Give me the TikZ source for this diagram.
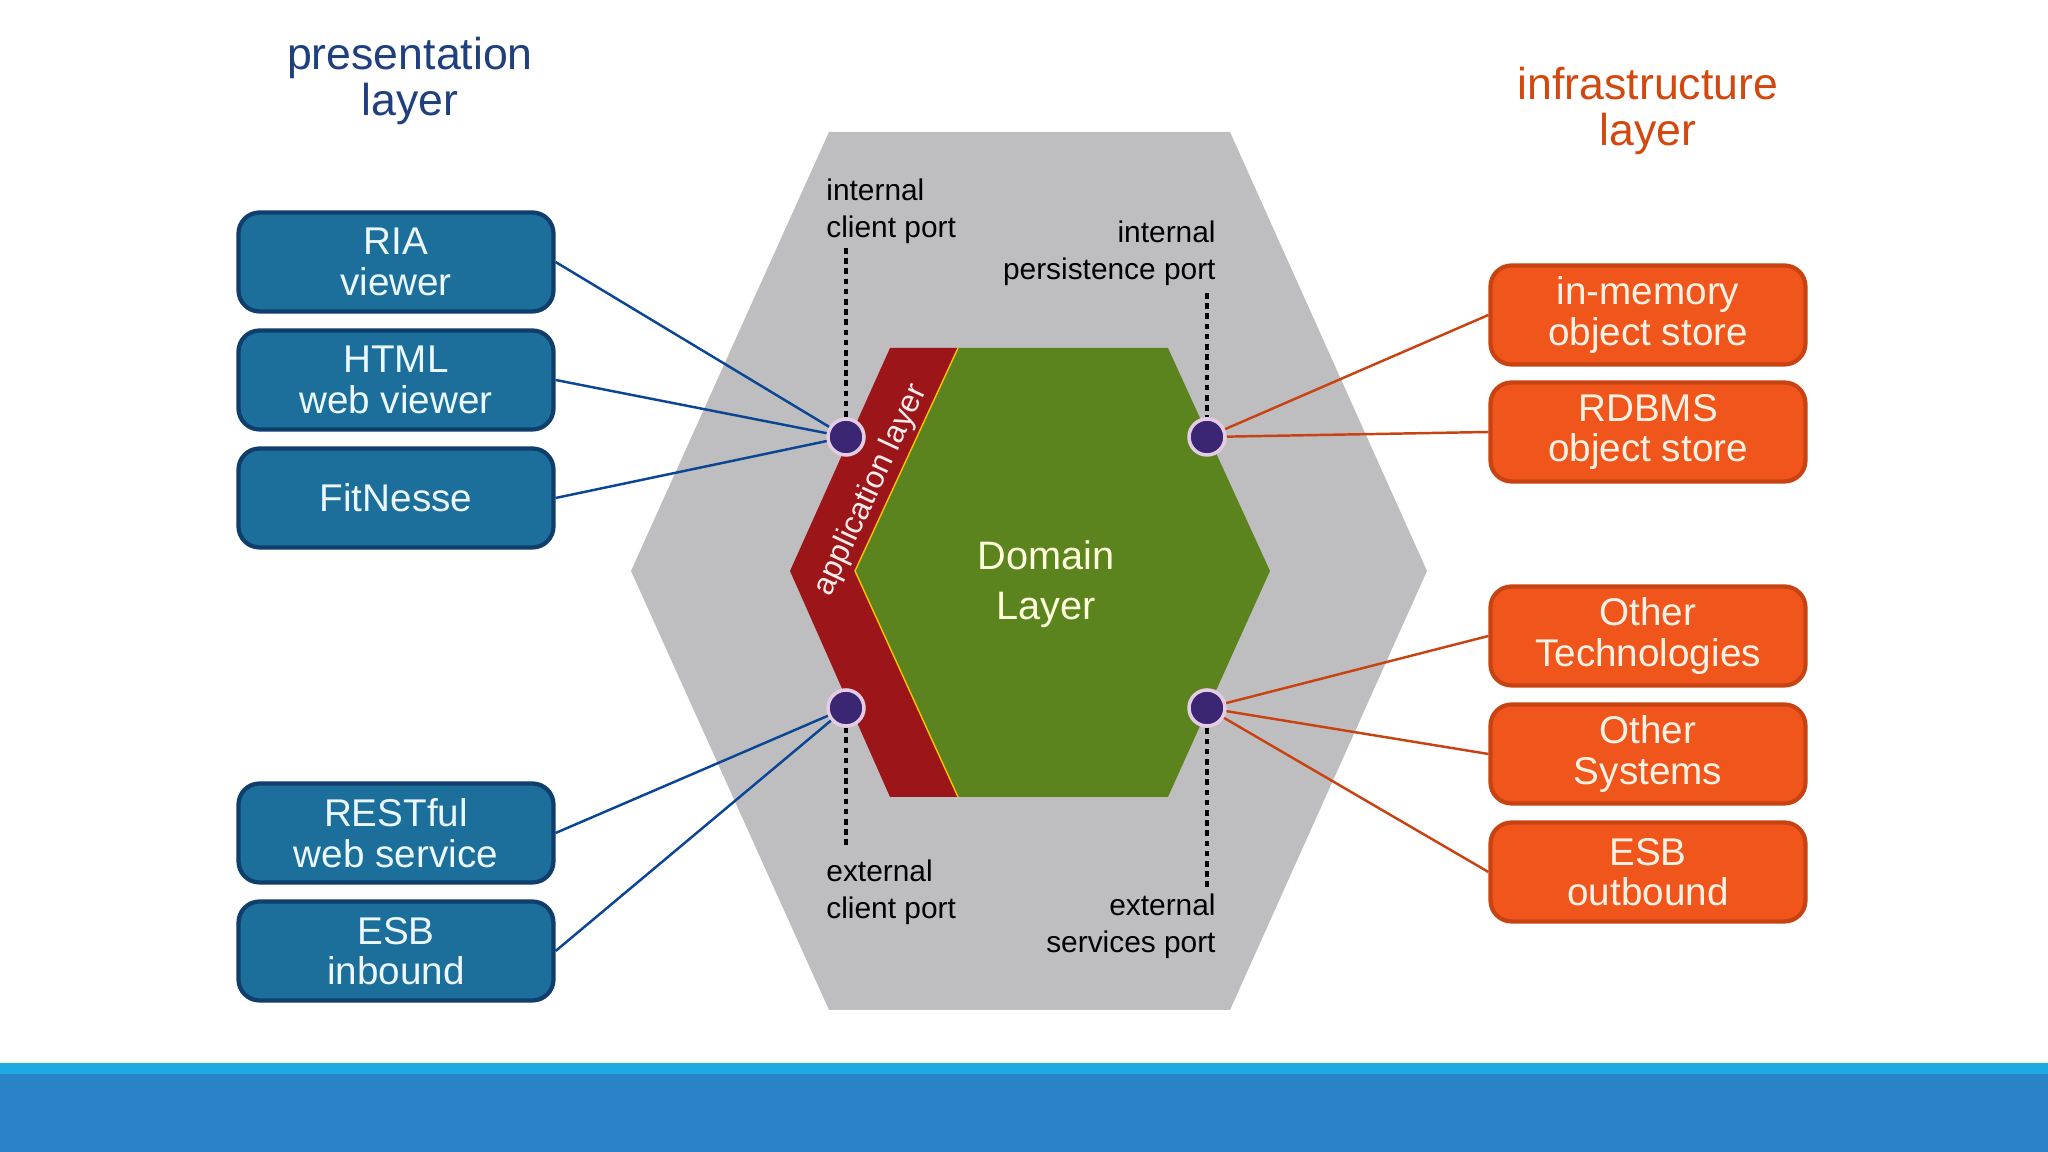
\documentclass[tikz,border=0pt]{standalone}
\usepackage{fontspec}
\setmainfont{Liberation Sans}
\usetikzlibrary{positioning}
\definecolor{hexgrey}{HTML}{BEBEC0}
\definecolor{appred}{HTML}{9B1519}
\definecolor{domgreen}{HTML}{5B841F}
\definecolor{portdot}{HTML}{3A2672}
\definecolor{boxblue}{HTML}{1C6E9B}
\definecolor{boxblueline}{HTML}{0F3E6C}
\definecolor{boxorange}{HTML}{F0561C}
\definecolor{boxorangeline}{HTML}{C94312}
\definecolor{titleblue}{HTML}{1F3F7E}
\definecolor{titleorange}{HTML}{D2480F}
\definecolor{bardark}{HTML}{2A83C6}
\definecolor{barlight}{HTML}{1EA9E3}

\begin{document}
\begin{tikzpicture}[
thick,
pbox/.style={draw=boxblueline, fill=boxblue, line width=1.2pt, rounded corners=6pt,
  minimum width=3.15cm, minimum height=0.99cm, align=center, inner sep=0pt,
  text=white!92!cyan, font=\fontsize{11}{11.5}\selectfont},
ibox/.style={pbox, draw=boxorangeline, fill=boxorange, text=white!90!orange},
port/.style={circle, fill=portdot, draw=white!80!violet, line width=1pt,
  minimum size=0.36cm, inner sep=0pt},
portlabel/.style={font=\fontsize{8.5}{10.5}\selectfont, inner sep=0pt},
portdash/.style={line width=1.1pt, dash pattern=on 1.6pt off 1.3pt},
pline/.style={line width=0.7pt, draw=boxblueline!80!blue!90!cyan},
iline/.style={line width=0.7pt, draw=boxorangeline},
layertitle/.style={align=center, font=\fontsize{12.7}{13}\selectfont},
]
\useasboundingbox (0,0) rectangle (20.48,11.52);
\fill[white] (0,0) rectangle (20.48,11.52);
% bottom bar
\fill[bardark] (0,0) rectangle (20.48,0.78);
\fill[barlight] (0,0.78) rectangle (20.48,0.89);

%% hexagons
\fill[hexgrey] (8.29,10.20) -- (12.30,10.20) -- (14.27,5.81) -- (12.30,1.42)
  -- (8.29,1.42) -- (6.31,5.81) -- cycle;
\fill[appred] (8.90,8.04) -- (9.58,8.04) -- (8.55,5.81) -- (9.58,3.55)
  -- (8.90,3.55) -- (7.90,5.81) -- cycle;
\fill[domgreen] (9.58,8.04) -- (11.68,8.04) -- (12.70,5.81) -- (11.68,3.55)
  -- (9.58,3.55) -- (8.55,5.81) -- cycle;
\draw[orange!50!yellow, line width=0.4pt] (9.58,8.04) -- (8.55,5.81) -- (9.58,3.55);
\node[text=green!8!yellow!15!white, align=center, font=\fontsize{11.3}{14.2}\selectfont]
  (domain) at (10.46,5.68) {Domain\\Layer};
\node[text=white!92!red, rotate=65, font=\fontsize{9}{10}\selectfont, inner sep=0pt]
  (applayer) at (8.71,6.62) {application layer};

%% ports
% nodes
\node[port] (icp) at (8.46,7.15) {};
\node[port] (ipp) at (12.07,7.15) {};
\node[port] (ecp) at (8.46,4.44) {};
\node[port] (esp) at (12.07,4.44) {};
\coordinate (icptop) at (8.46,9.04);
\coordinate (ipptop) at (12.07,8.59);
\coordinate (ecpbot) at (8.46,3.07);
\coordinate (espbot) at (12.07,2.65);
\node[portlabel, anchor=west, align=left] (icplabel) at (8.25,9.41) {internal\\client port};
\node[portlabel, anchor=east, align=right] (ipplabel) at (12.17,8.99) {internal\\persistence port};
\node[portlabel, anchor=west, align=left] (ecplabel) at (8.25,2.60) {external\\client port};
\node[portlabel, anchor=east, align=right] (esplabel) at (12.17,2.26) {external\\services port};
% dashes
\draw[portdash] (icptop) -- (icp);
\draw[portdash] (ipptop) -- (ipp);
\draw[portdash] (ecpbot) -- (ecp);
\draw[portdash] (espbot) -- (esp);

%% presentation layer
% nodes
\node[layertitle, text=titleblue] (ptitle) at (4.10,10.71) {presentation\\layer};
\node[pbox] (ria) at (3.96,8.90) {RIA\\viewer};
\node[pbox] (html) at (3.96,7.72) {HTML\\web viewer};
\node[pbox] (fitnesse) at (3.96,6.54) {FitNesse};
\node[pbox] (rest) at (3.96,3.19) {RESTful\\web service};
\node[pbox] (esbin) at (3.96,2.01) {ESB\\inbound};
% lines
\draw[pline] (ria.east) -- (icp);
\draw[pline] (html.east) -- (icp);
\draw[pline] (fitnesse.east) -- (icp);
\draw[pline] (rest.east) -- (ecp);
\draw[pline] (esbin.east) -- (ecp);

%% infrastructure layer
% nodes
\node[layertitle, text=titleorange] (ititle) at (16.48,10.41) {infrastructure\\layer};
\node[ibox] (inmem) at (16.48,8.37) {in-memory\\object store};
\node[ibox] (rdbms) at (16.48,7.20) {RDBMS\\object store};
\node[ibox] (othertech) at (16.48,5.16) {Other\\Technologies};
\node[ibox] (othersys) at (16.48,3.98) {Other\\Systems};
\node[ibox] (esbout) at (16.48,2.80) {ESB\\outbound};
% lines
\draw[iline] (inmem.west) -- (ipp);
\draw[iline] (rdbms.west) -- (ipp);
\draw[iline] (othertech.west) -- (esp);
\draw[iline] (othersys.west) -- (esp);
\draw[iline] (esbout.west) -- (esp);
\end{tikzpicture}
\end{document}
